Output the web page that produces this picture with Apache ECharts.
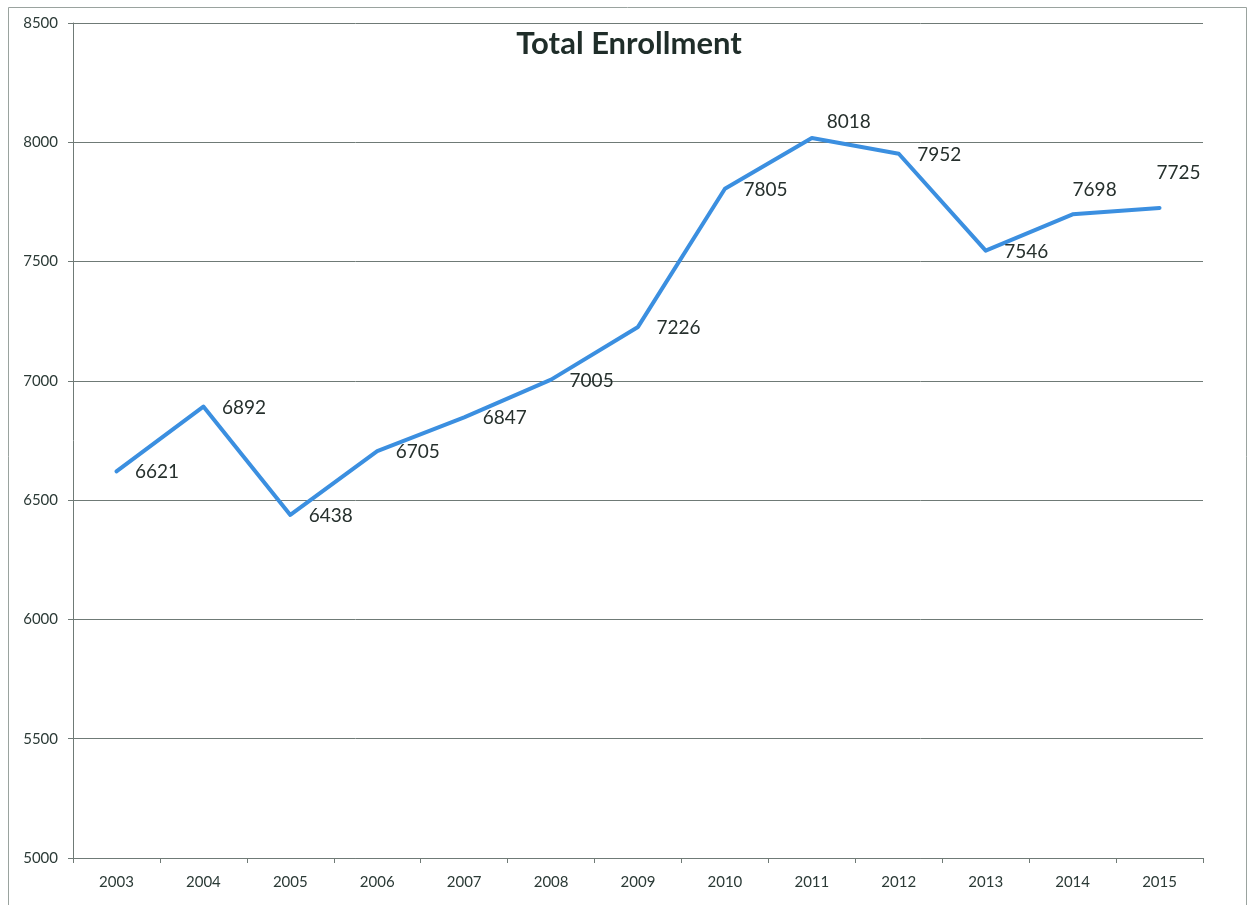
<!DOCTYPE html>
<html>
<head>
<meta charset="utf-8">
<script src="https://cdn.jsdelivr.net/npm/echarts@6/dist/echarts.min.js"></script>
<style>
  html, body { margin: 0; padding: 0; background: #ffffff; }
  #chart { width: 1250px; height: 905px; }
</style>
</head>
<body>
<div id="chart"></div>
<script>
// Enrollment totals by year
const years = ['2003', '2004', '2005', '2006', '2007', '2008', '2009', '2010', '2011', '2012', '2013', '2014', '2015'];
const enrollment = [6621, 6892, 6438, 6705, 6847, 7005, 7226, 7805, 8018, 7952, 7546, 7698, 7725];

// Label placement per point: most sit to the right of the line, a few above
const labelPlacement = {
  '2011': { position: 'top', offset: [37, 12] },
  '2014': { position: 'top', offset: [22, 4] },
  '2015': { position: 'top', offset: [19, -7] }
};

const gridColor = '#6f7a76';
const textColor = '#2b3a36';
const fontFamily = 'Lato, "Open Sans", sans-serif';

const seriesData = enrollment.map((v, i) => {
  const p = labelPlacement[years[i]];
  const item = { value: v };
  if (p) item.label = { position: p.position, offset: p.offset };
  return item;
});

const chart = echarts.init(document.getElementById('chart'), null, { renderer: 'canvas' });
chart.setOption({
  animation: false,
  backgroundColor: '#ffffff',
  title: {
    text: 'Total Enrollment',
    left: 624,
    top: 23,
    textAlign: 'center',
    textStyle: { fontFamily: fontFamily, fontSize: 31, fontWeight: 'bold', color: '#1f2d29' }
  },
  grid: { left: 73, right: 47, top: 23, bottom: 47, containLabel: false },
  xAxis: {
    type: 'category',
    data: years,
    boundaryGap: true,
    axisLine: { show: true, lineStyle: { color: gridColor, width: 1 } },
    axisTick: { show: true, length: 5, lineStyle: { color: gridColor } },
    axisLabel: { margin: 17, fontFamily: fontFamily, fontSize: 15, color: textColor },
    splitLine: { show: false }
  },
  yAxis: {
    type: 'value',
    min: 5000,
    max: 8500,
    interval: 500,
    axisLine: { show: true, lineStyle: { color: gridColor, width: 1 } },
    axisTick: { show: true, length: 5, lineStyle: { color: gridColor } },
    axisLabel: {
      margin: 15,
      fontFamily: fontFamily,
      fontSize: 15,
      color: textColor,
      formatter: (v) => String(v)
    },
    splitLine: { show: true, lineStyle: { color: gridColor, width: 1 } }
  },
  graphic: [{
    type: 'rect',
    shape: { x: 8.5, y: 7.5, width: 1238, height: 910 },
    style: { fill: 'none', stroke: '#9aa39f', lineWidth: 1 },
    silent: true,
    z: -1
  }],
  series: [{
    type: 'line',
    data: seriesData,
    showSymbol: true,
    symbol: 'circle',
    symbolSize: 1,
    itemStyle: { color: 'rgba(0,0,0,0)' },
    lineStyle: { color: '#3b8fe0', width: 4, cap: 'round', join: 'round' },
    label: {
      show: true,
      position: 'right',
      distance: 18,
      offset: [0, 1],
      fontFamily: fontFamily,
      fontSize: 19,
      color: '#26302d'
    },
    emphasis: { disabled: true }
  }]
});
</script>
</body>
</html>
